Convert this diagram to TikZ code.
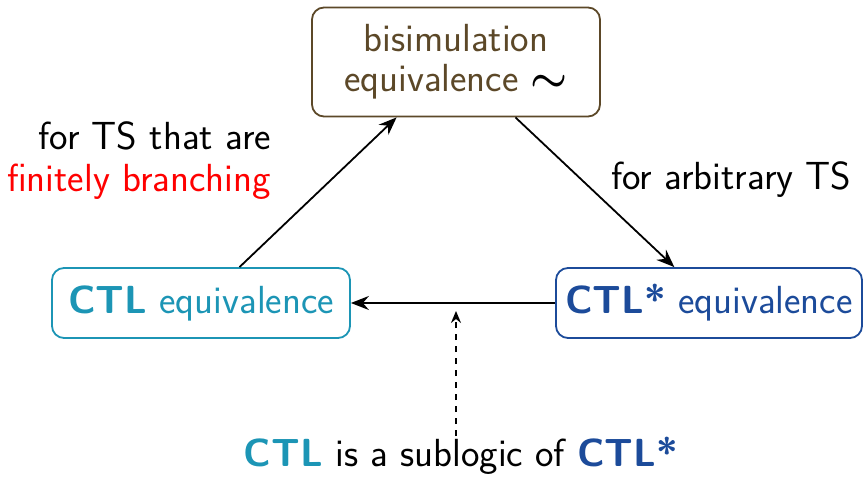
\documentclass[tikz,border=0pt]{standalone}
\usepackage{tikz}
\usetikzlibrary{arrows.meta,calc}
\usepackage{amsmath, amssymb}
\usepackage{bm}
\definecolor{bisimbrown}{RGB}{92,72,40}
\definecolor{ctlcyan}{RGB}{28,149,181}
\definecolor{ctlstarblue}{RGB}{28,75,154}

\begin{document}
\begin{tikzpicture}[
        x=0.5pt, y=-0.5pt,
        font=\sffamily\fontsize{19.6}{20}\selectfont,
        equiv/.style={rectangle, rounded corners=6pt, line width=0.9pt, align=center, inner sep=0pt},
        implies/.style={-{Stealth[length=9pt,width=7pt,inset=3pt]}, line width=0.9pt},
        sublogic/.style={-{Stealth[length=6pt,width=5pt,inset=2pt]}, line width=0.9pt, dash pattern=on 3pt off 3pt}
    ]
        \useasboundingbox (0,0) rectangle (864,480);

        % Aequivalenzen
        \node[equiv, draw=bisimbrown, text=bisimbrown, minimum width=144pt, minimum height=54.5pt] (bisim) at (456,62)
            {bisimulation\\equivalence {\color{black}$\bm{\sim}$}};
        \node[equiv, draw=ctlcyan, text=ctlcyan, minimum width=149pt, minimum height=35pt] (ctl) at (201,303)
            {\textbf{CTL} equivalence};
        \node[equiv, draw=ctlstarblue, text=ctlstarblue, minimum width=153pt, minimum height=35pt] (ctlstar) at (709,303)
            {\textbf{CTL*} equivalence};

        % Implikationen
        \draw[implies] (ctl.43) -- (bisim.223);
        \draw[implies] (bisim.317) -- (ctlstar.134);
        \draw[implies] (ctlstar.west) -- (ctl.east);

        % Beschriftungen
        \node[anchor=east, align=right, font=\sffamily\fontsize{19.6}{21}\selectfont] (finbranch) at (278,161)
            {for TS that are\\\color{red}finitely branching};
        \node[anchor=west] (arbitrary) at (604,180) {for arbitrary TS};

        % Teillogik
        \node (sub) at (461,456) {{\color{ctlcyan}\textbf{CTL}} is a sublogic of {\color{ctlstarblue}\textbf{CTL*}}};
        \coordinate (mid) at (456,311);
        \draw[sublogic] ($(sub.north)+(-5,6)$) -- (mid);

    \end{tikzpicture}
\end{document}
